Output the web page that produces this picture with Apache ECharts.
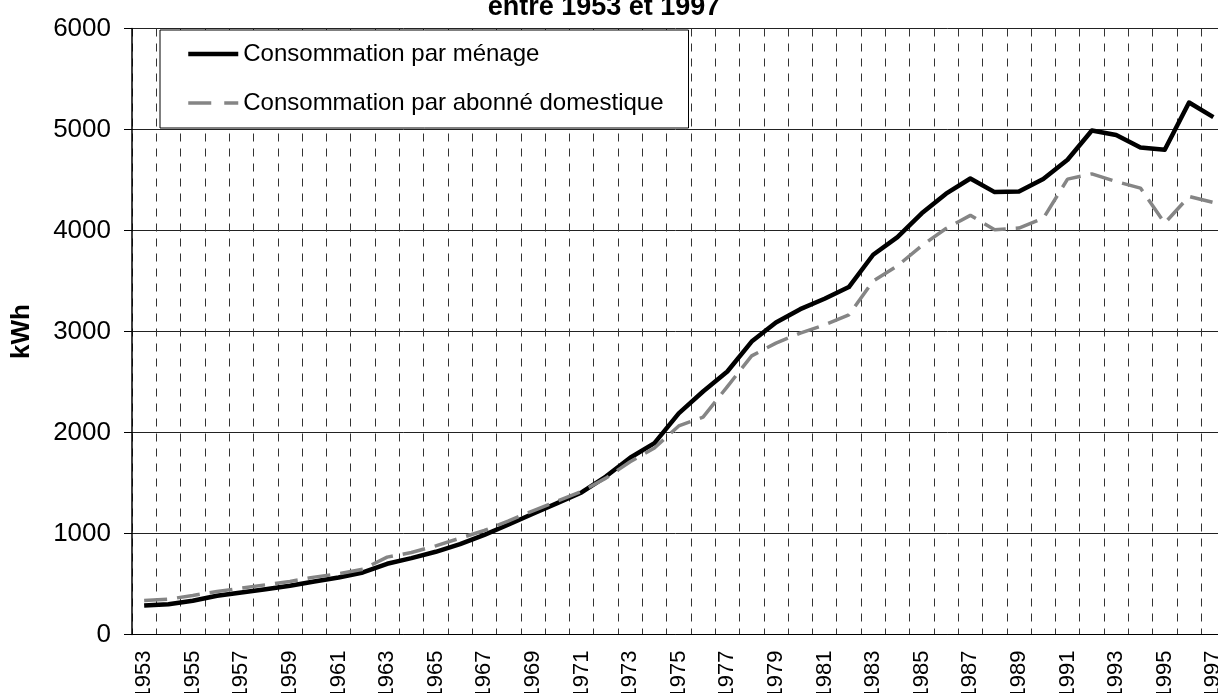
<!DOCTYPE html>
<html>
<head>
<meta charset="utf-8">
<script src="https://cdn.jsdelivr.net/npm/echarts@6/dist/echarts.min.js"></script>
<style>
  html, body { margin: 0; padding: 0; background: #fff; }
  #chart { width: 1218px; height: 693px; }
</style>
</head>
<body>
<div id="chart"></div>
<script>
// annees 1953 -> 1997
const years = []
for (let y = 1953; y <= 1997; y++) years.push(String(y))

// kWh
const menage = [
  287, 300, 334, 383, 416, 449, 482, 525, 564, 614,
  700, 756, 819, 895, 987, 1089, 1195, 1301, 1406, 1564,
  1750, 1895, 2190, 2406, 2604, 2900, 3089, 3221, 3324, 3440,
  3760, 3935, 4170, 4365, 4515, 4380, 4386, 4510, 4700, 4990,
  4945, 4822, 4799, 5267, 5123
]
const abonne = [
  337, 350, 386, 426, 459, 492, 525, 568, 601, 647,
  766, 812, 878, 954, 1030, 1126, 1225, 1321, 1416, 1548,
  1710, 1846, 2065, 2152, 2455, 2759, 2885, 2984, 3066, 3165,
  3500, 3650, 3850, 4020, 4150, 4007, 4024, 4120, 4509, 4561,
  4485, 4420, 4073, 4337, 4277
]
const yTicks = [0, 1000, 2000, 3000, 4000, 5000, 6000]

const font = 'Liberation Sans, Arial, sans-serif'
const noSymbol = { color: 'rgba(0,0,0,0)', borderColor: 'rgba(0,0,0,0)', borderWidth: 0 }
const chart = echarts.init(document.getElementById('chart'))

chart.setOption({
  animation: false,
  textStyle: { fontFamily: font, color: '#000' },
  graphic: [{
    type: 'text',
    x: 604,
    y: 8,
    style: {
      text: 'entre 1953 et 1997',
      font: 'bold 27px ' + font,
      fill: '#000',
      textAlign: 'center',
      textVerticalAlign: 'middle'
    }
  }],
  grid: {
    left: 132, top: 28.5, width: 1093.5, height: 606,
    containLabel: false,
    outerBoundsMode: 'none'
  },
  legend: {
    orient: 'vertical',
    left: 160,
    top: 30,
    padding: [12, 25, 13, 26],
    itemWidth: 50,
    itemHeight: 24,
    itemGap: 25,
    backgroundColor: '#fff',
    borderColor: '#000',
    borderWidth: 1,
    borderRadius: 0,
    itemStyle: noSymbol,
    textStyle: { fontSize: 24, lineHeight: 24, color: '#000', fontFamily: font },
    data: [
      { name: 'Consommation par ménage', itemStyle: noSymbol, lineStyle: { color: '#000', width: 4.5 } },
      { name: 'Consommation par abonné domestique', itemStyle: noSymbol, lineStyle: { color: '#858585', width: 3.5, type: [23, 13] } }
    ]
  },
  xAxis: [
    {
      type: 'category',
      data: years,
      boundaryGap: true,
      axisLine: { lineStyle: { color: '#000', width: 1 } },
      axisTick: { interval: 0, length: 7, lineStyle: { color: '#000' } },
      axisLabel: { interval: 1, rotate: 90, fontSize: 22, margin: 16, color: '#000' },
      splitLine: {
        show: true,
        interval: 0,
        lineStyle: { color: '#333', width: 1, type: [8, 7] }
      }
    },
    {
      // moitie interieure des graduations croisees
      type: 'category',
      data: years,
      position: 'bottom',
      boundaryGap: true,
      axisLine: { show: false },
      axisTick: { interval: 0, inside: true, length: 7, lineStyle: { color: '#000' } },
      axisLabel: { show: false },
      splitLine: { show: false }
    }
  ],
  yAxis: {
    type: 'value',
    min: yTicks[0],
    max: yTicks[yTicks.length - 1],
    interval: 1000,
    name: 'kWh',
    nameLocation: 'middle',
    nameRotate: 90,
    nameGap: 97,
    nameTextStyle: { fontSize: 26, fontWeight: 'bold', color: '#000' },
    axisLine: { show: true, lineStyle: { color: '#000', width: 1.5 } },
    axisTick: { show: true, length: 8, lineStyle: { color: '#000' } },
    axisLabel: { fontSize: 26, margin: 21, color: '#000', formatter: v => String(v) },
    splitLine: { show: true, lineStyle: { color: '#222', width: 1 } }
  },
  series: [
    {
      name: 'Consommation par ménage',
      type: 'line',
      data: menage,
      symbol: 'none',
      color: '#000',
      lineStyle: { color: '#000', width: 4.5, join: 'round' }
    },
    {
      name: 'Consommation par abonné domestique',
      type: 'line',
      data: abonne,
      symbol: 'none',
      color: '#858585',
      lineStyle: { color: '#858585', width: 3.5, type: [23, 10] }
    }
  ]
})
</script>
</body>
</html>
